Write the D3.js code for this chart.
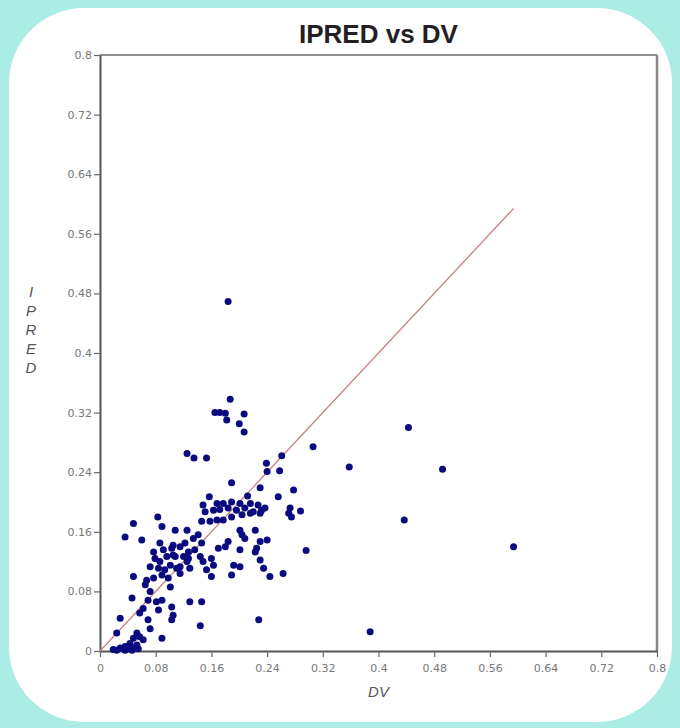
<!DOCTYPE html>
<html>
<head>
<meta charset="utf-8">
<script src="https://cdn.jsdelivr.net/npm/d3@7"></script>
<style>
  body { margin: 0; background: #abede5; }
  svg { display: block; }
</style>
</head>
<body>
<svg id="main-svg" width="680" height="728"></svg>
<script>
const dv = [
  0.184, 0.187, 0.165, 0.172, 0.180, 0.182, 0.207, 0.200, 0.207, 0.125,
  0.135, 0.153, 0.239, 0.240, 0.258, 0.261, 0.306, 0.358, 0.443, 0.492,
  0.437, 0.594, 0.388, 0.296, 0.263, 0.228, 0.230, 0.278, 0.189, 0.157,
  0.212, 0.256, 0.273, 0.271, 0.275, 0.288,
  0.148, 0.168, 0.177, 0.189, 0.201, 0.216, 0.227, 0.151, 0.163, 0.172,
  0.184, 0.196, 0.208, 0.220, 0.232, 0.146, 0.158, 0.168, 0.177, 0.189,
  0.204, 0.216, 0.230, 0.237,
  0.108, 0.125, 0.134, 0.201, 0.204, 0.208, 0.223, 0.240, 0.230, 0.225,
  0.223, 0.184, 0.180, 0.170, 0.146, 0.201, 0.105, 0.115, 0.122, 0.108,
  0.120, 0.101, 0.110, 0.127, 0.129, 0.144, 0.148, 0.160, 0.153, 0.163,
  0.192, 0.201, 0.230, 0.235, 0.189, 0.160, 0.244,
  0.048, 0.036, 0.060, 0.086, 0.089, 0.141, 0.077, 0.091, 0.103, 0.079,
  0.086, 0.096, 0.105, 0.127, 0.072, 0.084, 0.093, 0.115, 0.125, 0.089,
  0.098, 0.115, 0.077, 0.136, 0.048, 0.067, 0.065, 0.101, 0.072, 0.046,
  0.069, 0.081, 0.089, 0.062, 0.057, 0.084, 0.103, 0.105, 0.103, 0.129,
  0.146, 0.069, 0.029, 0.072, 0.144, 0.089, 0.024, 0.083,
  0.053, 0.057, 0.048, 0.043, 0.036, 0.029, 0.053, 0.041, 0.024, 0.019,
  0.048, 0.062, 0.036, 0.046, 0.055
];
const ipred = [
  0.469, 0.338, 0.320, 0.320, 0.319, 0.310, 0.318, 0.305, 0.294, 0.265,
  0.259, 0.259, 0.252, 0.241, 0.242, 0.262, 0.274, 0.247, 0.300, 0.244,
  0.176, 0.140, 0.026, 0.135, 0.104, 0.042, 0.219, 0.216, 0.226, 0.207,
  0.208, 0.207, 0.192, 0.185, 0.180, 0.188,
  0.196, 0.198, 0.198, 0.200, 0.198, 0.198, 0.196, 0.187, 0.189, 0.190,
  0.192, 0.189, 0.192, 0.187, 0.189, 0.174, 0.174, 0.176, 0.176, 0.180,
  0.183, 0.185, 0.185, 0.192,
  0.162, 0.162, 0.151, 0.162, 0.156, 0.151, 0.162, 0.149, 0.147, 0.138,
  0.133, 0.147, 0.140, 0.138, 0.145, 0.136, 0.142, 0.140, 0.145, 0.127,
  0.127, 0.115, 0.111, 0.124, 0.111, 0.127, 0.120, 0.124, 0.109, 0.115,
  0.115, 0.113, 0.122, 0.111, 0.102, 0.100, 0.100,
  0.171, 0.153, 0.149, 0.145, 0.167, 0.156, 0.133, 0.136, 0.138, 0.124,
  0.120, 0.127, 0.129, 0.133, 0.113, 0.111, 0.109, 0.113, 0.120, 0.102,
  0.098, 0.104, 0.098, 0.136, 0.100, 0.095, 0.089, 0.086, 0.080, 0.071,
  0.068, 0.066, 0.068, 0.057, 0.051, 0.055, 0.059, 0.048, 0.042, 0.066,
  0.066, 0.042, 0.044, 0.030, 0.034, 0.017, 0.024, 0.180,
  0.024, 0.019, 0.017, 0.010, 0.006, 0.004, 0.008, 0.003, 0.001, 0.002,
  0.004, 0.015, 0.001, 0.001, 0.003
];
const tickValues = [0, 0.08, 0.16, 0.24, 0.32, 0.4, 0.48, 0.56, 0.64, 0.72, 0.8];
const tickLabels = ['0', '0.08', '0.16', '0.24', '0.32', '0.4', '0.48', '0.56', '0.64', '0.72', '0.8'];
const points = dv.map((d, i) => ({ dv: d, ipred: ipred[i] }));

const svg = d3.select('#main-svg');

// white card with rounded corners
svg.append('rect')
  .attr('x', 9).attr('y', 8)
  .attr('width', 663).attr('height', 714)
  .attr('rx', 75).attr('ry', 75)
  .attr('fill', '#ffffff');

const plotLeft = 100, plotRight = 657, plotTop = 55, plotBottom = 651;
const x = d3.scaleLinear().domain([0, 0.8]).range([plotLeft, plotRight]);
const y = d3.scaleLinear().domain([0, 0.8]).range([plotBottom, plotTop]);

// title
svg.append('text')
  .attr('x', (plotLeft + plotRight) / 2).attr('y', 43)
  .attr('text-anchor', 'middle')
  .style('font-family', 'Arial, "Liberation Sans", sans-serif')
  .style('font-weight', 'bold')
  .style('font-size', '26px')
  .style('fill', '#231f24')
  .text('IPRED vs DV');

// top and right frame
svg.append('line')
  .attr('x1', plotLeft).attr('x2', plotRight).attr('y1', plotTop).attr('y2', plotTop)
  .attr('stroke', '#6a6a6a').attr('stroke-width', 1.5);
svg.append('line')
  .attr('x1', plotRight).attr('x2', plotRight).attr('y1', plotTop).attr('y2', plotBottom)
  .attr('stroke', '#888').attr('stroke-width', 2.5);

const fmt = d => tickLabels[tickValues.indexOf(d)];

const xAxis = svg.append('g')
  .attr('transform', `translate(0,${plotBottom})`)
  .call(d3.axisBottom(x).tickValues(tickValues).tickFormat(fmt).tickSize(6).tickSizeOuter(0));
const yAxis = svg.append('g')
  .attr('transform', `translate(${plotLeft},0)`)
  .call(d3.axisLeft(y).tickValues(tickValues).tickFormat(fmt).tickSize(6).tickSizeOuter(0));

[xAxis, yAxis].forEach(a => {
  a.select('.domain').attr('stroke', '#555').attr('stroke-width', 2);
  a.selectAll('.tick line').attr('stroke', '#666').attr('stroke-width', 1.2);
  a.selectAll('.tick text')
    .style('font-family', '"DejaVu Sans", sans-serif')
    .style('font-size', '11px')
    .style('fill', '#777');
});
xAxis.selectAll('.tick text').attr('dy', '1.1em');
yAxis.selectAll('.tick text').attr('x', -8);

// axis titles
svg.append('text')
  .attr('x', (plotLeft + plotRight) / 2).attr('y', 697)
  .attr('text-anchor', 'middle')
  .style('font-family', 'Arial, "Liberation Sans", sans-serif')
  .style('font-style', 'italic')
  .style('font-size', '15px')
  .style('fill', '#555')
  .text('DV');

const yLab = svg.append('text')
  .attr('x', 31).attr('y', 297)
  .attr('text-anchor', 'middle')
  .style('font-family', 'Arial, "Liberation Sans", sans-serif')
  .style('font-style', 'italic')
  .style('font-size', '15px')
  .style('fill', '#555');
yLab.selectAll('tspan')
  .data('IPRED'.split(''))
  .enter()
  .append('tspan')
  .attr('x', 31)
  .attr('dy', (d, i) => i === 0 ? 0 : 19)
  .text(d => d);

// line of identity up to largest DV
const maxDv = d3.max(dv);
svg.append('line')
  .attr('x1', x(0)).attr('y1', y(0))
  .attr('x2', x(maxDv)).attr('y2', y(maxDv))
  .attr('stroke', '#c98080').attr('stroke-width', 1.3);

// points
svg.selectAll('.pt')
  .data(points)
  .enter()
  .append('circle')
  .attr('class', 'pt')
  .attr('cx', d => x(d.dv))
  .attr('cy', d => y(d.ipred))
  .attr('r', 3.5)
  .attr('fill', '#0b0b80');
</script>
</body>
</html>
